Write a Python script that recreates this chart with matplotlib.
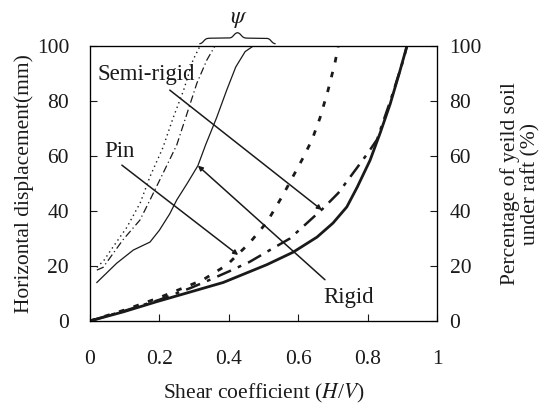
import numpy as np
import matplotlib
matplotlib.use("Agg")
import matplotlib.pyplot as plt

plt.rcParams['font.family'] = ['Liberation Serif', 'DejaVu Serif']
plt.rcParams['mathtext.fontset'] = 'stix'

# curves (x = shear coefficient, y = displacement / percentage)
dot_thin_x = [0.02, 0.04, 0.067, 0.106, 0.145, 0.173, 0.21, 0.24, 0.27, 0.297, 0.317]
dot_thin_y = [19.5, 22, 27, 34, 43, 52.5, 63, 74, 84, 95, 100]

dd_thin_x = [0.02, 0.038, 0.095, 0.144, 0.173, 0.20, 0.25, 0.28, 0.308, 0.337, 0.36]
dd_thin_y = [18.5, 19.5, 29.5, 36.7, 44, 51, 64, 75.6, 86.5, 95, 100]

solid_thin_x = [0.02, 0.033, 0.077, 0.125, 0.173, 0.20, 0.23, 0.25, 0.28, 0.311, 0.333,
                0.365, 0.394, 0.42, 0.447, 0.47]
solid_thin_y = [14, 15.6, 21, 25.8, 28.7, 33, 39, 44, 50, 56.5, 64, 74, 84, 92.4, 98, 100]

dot_bold_x = [0, 0.1, 0.2, 0.288, 0.326, 0.395, 0.46, 0.51, 0.556, 0.615, 0.64, 0.663,
              0.686, 0.706, 0.715]
dot_bold_y = [0, 4, 8.5, 13, 15, 20.4, 28.4, 36, 45.8, 59.6, 66, 74, 84, 94, 100]

dd_bold_x = [0, 0.1, 0.2, 0.29, 0.346, 0.40, 0.46, 0.528, 0.576, 0.625, 0.672, 0.715,
             0.758, 0.80, 0.827, 0.865, 0.903, 0.913]
dd_bold_y = [0, 3.7, 7.7, 12, 15, 18, 21.5, 26.5, 30, 35.6, 41, 46.5, 53.8, 61, 66, 80,
             95, 100]

solid_bold_x = [0, 0.096, 0.192, 0.288, 0.384, 0.51, 0.585, 0.654, 0.70, 0.74, 0.77,
                0.807, 0.836, 0.865, 0.893, 0.913]
solid_bold_y = [0, 3.3, 7, 10.5, 14, 20.5, 25, 30.5, 35.6, 41.5, 48.7, 58.5, 68.4, 79,
                91, 100]

ticks_x = [0, 0.2, 0.4, 0.6, 0.8, 1]
ticks_x_lab = ['0', '0.2', '0.4', '0.6', '0.8', '1']
ticks_y = [0, 20, 40, 60, 80, 100]

ink = '#1a1a1a'
fs = 15.5

fig = plt.figure(figsize=(5.45, 4.12), dpi=100)
ax = fig.add_axes([0.165, 0.221, 0.637, 0.667])

ax.plot(dot_thin_x, dot_thin_y, color=ink, lw=1.0, linestyle=(0, (1, 2.5)))
ax.plot(dd_thin_x, dd_thin_y, color=ink, lw=0.9, linestyle=(0, (6, 2.5, 1, 2.5)))
ax.plot(solid_thin_x, solid_thin_y, color=ink, lw=0.9)
ax.plot(dot_bold_x, dot_bold_y, color=ink, lw=2.0, linestyle=(0, (2, 3.5)))
ax.plot(dd_bold_x, dd_bold_y, color=ink, lw=1.8, linestyle=(0, (6, 3, 1.5, 3)))
ax.plot(solid_bold_x, solid_bold_y, color=ink, lw=2.0)

ax.set_xlim(0, 1)
ax.set_ylim(0, 100)
ax.set_xticks(ticks_x)
ax.set_xticklabels(ticks_x_lab)
ax.set_yticks(ticks_y)
ax.tick_params(direction='in', length=5, width=0.8, labelsize=fs, colors=ink)
ax.tick_params(axis='x', pad=21)
ax.tick_params(axis='y', pad=15)
for s in ax.spines.values():
    s.set_linewidth(0.9)
    s.set_color(ink)

ax2 = ax.twinx()
ax2.set_ylim(0, 100)
ax2.set_yticks(ticks_y)
ax2.tick_params(direction='in', length=5, width=0.8, labelsize=fs, pad=9, colors=ink)

ax.set_xlabel('Shear coefficient ($H$/$V$)', fontsize=fs, labelpad=9, color=ink)
ax.set_ylabel('Horizontal displacement(mm)', fontsize=fs, labelpad=2, color=ink)
ax2.set_ylabel('Percentage of yeild soil\nunder raft (%)', fontsize=fs, labelpad=13,
               color=ink, linespacing=1.05)

# labels with pointer lines
aprops = dict(arrowstyle='-|>', mutation_scale=7, lw=1.1, color=ink, shrinkA=0, shrinkB=0)
ax.text(0.161, 89.5, 'Semi-rigid', fontsize=16.5, ha='center', va='center', color=ink)
ax.annotate('', xy=(0.668, 40.4), xytext=(0.23, 84), arrowprops=aprops)
ax.text(0.086, 61.5, 'Pin', fontsize=16.5, ha='center', va='center', color=ink)
ax.annotate('', xy=(0.427, 24), xytext=(0.092, 56.7), arrowprops=aprops)
ax.text(0.745, 8.4, 'Rigid', fontsize=16.5, ha='center', va='center', color=ink)
ax.annotate('', xy=(0.311, 56.5), xytext=(0.677, 15), arrowprops=aprops)

# curly brace over the spread of the left curves
x0, x1, base, h = 0.317, 0.533, 100.8, 4.2
t = np.linspace(0, 1, 100)
half = (x1 - x0) / 2
sig = 1 / (1 + np.exp(-30 * (t - 0.1))) + 1 / (1 + np.exp(-30 * (t - 0.9)))
bx = np.concatenate([x0 + t * half, x0 + half + t * half])
by = np.concatenate([base + h / 2 * sig, base + h / 2 * sig[::-1]])
ax.plot(bx, by, color=ink, lw=0.9, clip_on=False)
ax.text((x0 + x1) / 2 + 0.005, base + h + 0.8, r'$\psi$', fontsize=17, ha='center',
        va='bottom', color=ink)

fig.savefig('out.png', dpi=100)
